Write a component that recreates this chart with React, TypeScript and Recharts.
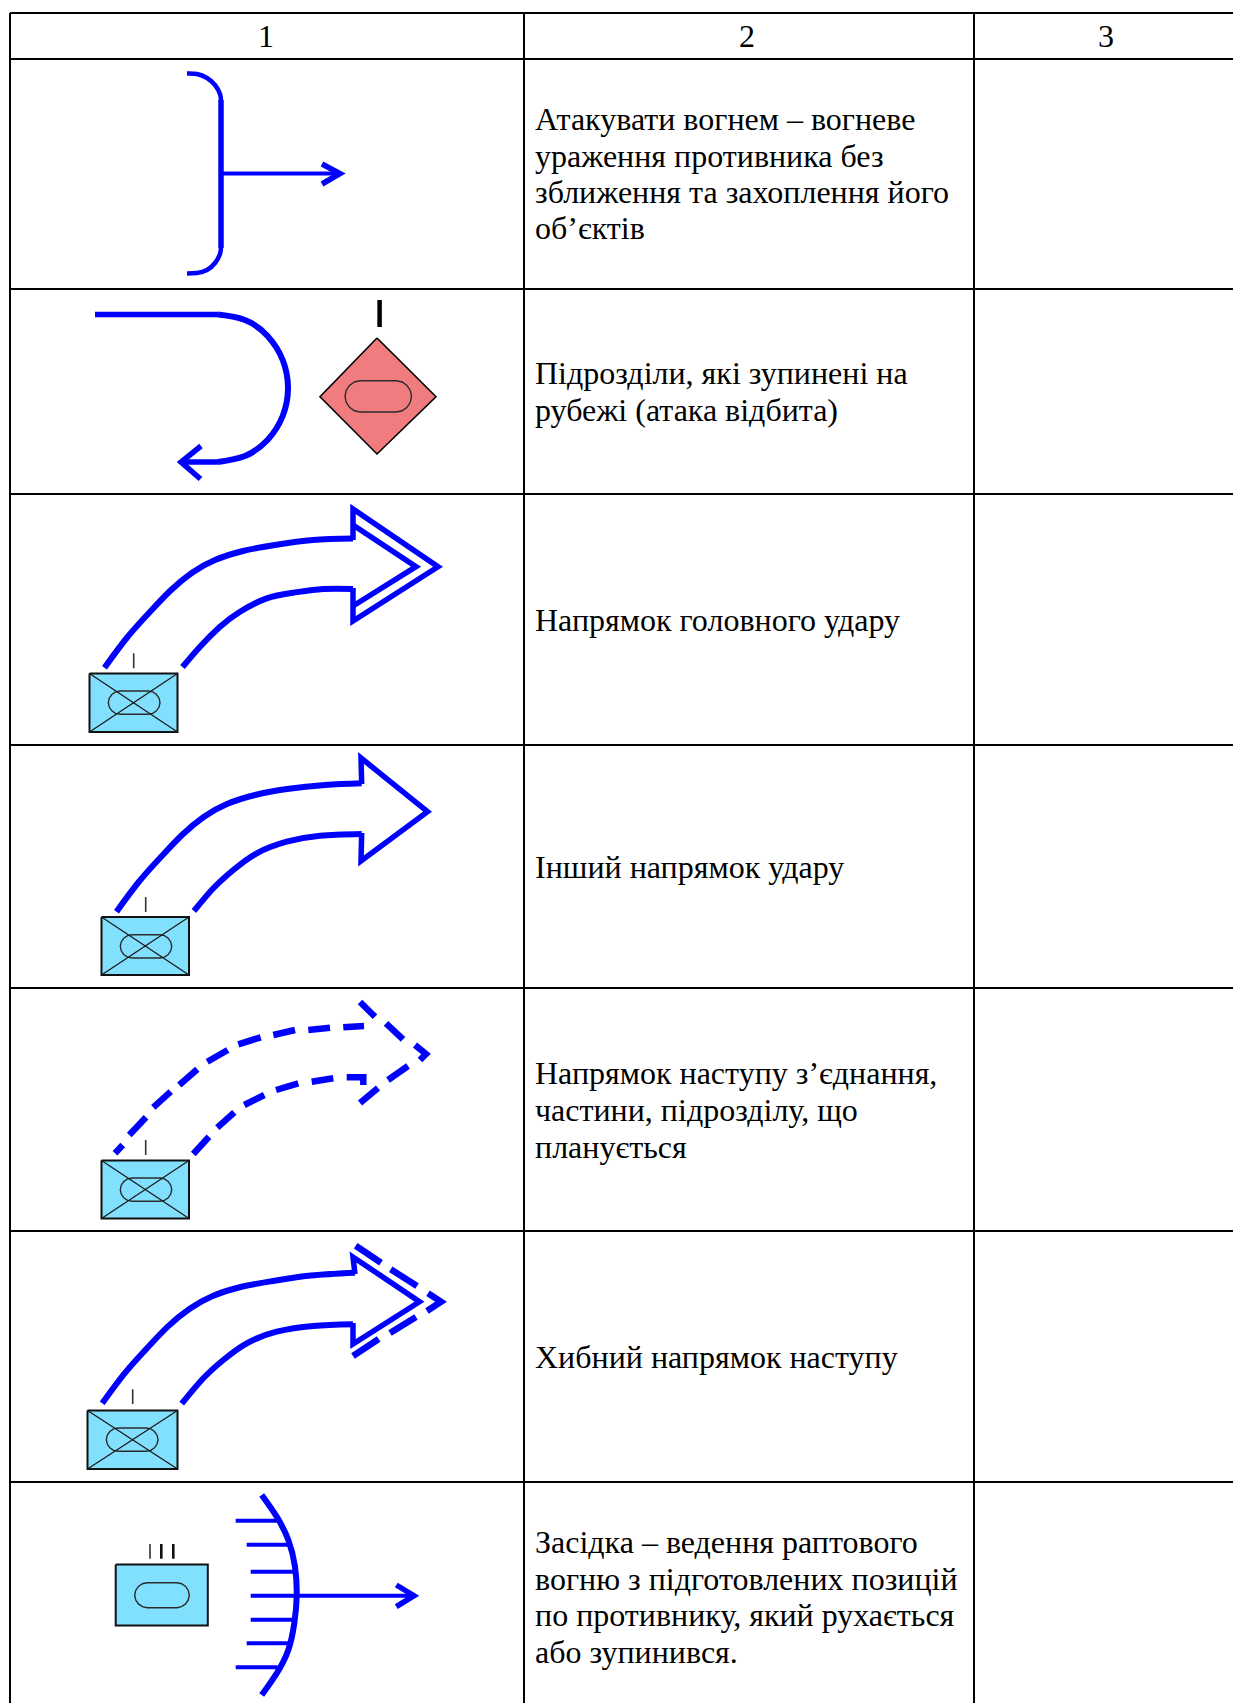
import React from "react";
import { ComposedChart, Line, Area, Scatter, XAxis, YAxis } from "recharts";

type P = { x: number; y: number };
const pts = (a: number[][]): P[] => a.map(([x, y]) => ({ x, y }));
const box = (x1: number, y1: number, x2: number, y2: number) => [
  { x: x1, y: y1, range: [y1, y2] },
  { x: x2, y: y1, range: [y1, y2] },
];

// Table rules
const columnRules = [10, 524, 974];
const rowRules = [13, 59, 289, 494, 745, 988, 1231, 1482];
const headerLabels = [
  { x: 266, y: 47, text: "1" },
  { x: 747, y: 47, text: "2" },
  { x: 1106, y: 47, text: "3" },
];
const descriptionLines = [
  { x: 535, y: 130, text: "Атакувати вогнем – вогневе" },
  { x: 535, y: 167, text: "ураження противника без" },
  { x: 535, y: 203, text: "зближення та захоплення його" },
  { x: 535, y: 239, text: "об’єктів" },
  { x: 535, y: 384, text: "Підрозділи, які зупинені на" },
  { x: 535, y: 421, text: "рубежі (атака відбита)" },
  { x: 535, y: 631, text: "Напрямок головного удару" },
  { x: 535, y: 878, text: "Інший напрямок удару" },
  { x: 535, y: 1084, text: "Напрямок наступу з’єднання," },
  { x: 535, y: 1121, text: "частини, підрозділу, що" },
  { x: 535, y: 1158, text: "планується" },
  { x: 535, y: 1368, text: "Хибний напрямок наступу" },
  { x: 535, y: 1553, text: "Засідка – ведення раптового" },
  { x: 535, y: 1590, text: "вогню з підготовлених позицій" },
  { x: 535, y: 1626, text: "по противнику, який рухається" },
  { x: 535, y: 1663, text: "або зупинився." },
];

// Curved outlines (smooth)
const smoothHeavy = [
  [[104.5,667.7],[126.7,638],[148,614],[170,591],[192,572.7],[215,560],[243,551],[275,545],[313,540],[353,538.5]],
  [[182.5,667],[200,646.7],[220,626.7],[240,611.7],[266.7,598.3],[293.3,592.7],[323.3,589],[353,589]],
  [[116.5,911.7],[138.7,882],[160,858],[182,835],[204,816.7],[227,804],[255,795],[287,789],[325,785],[361.7,783.3]],
  [[194,911],[213.3,888.3],[233.3,870],[256.7,853.3],[286.7,841.7],[320,835.7],[361.7,834]],
  [[102.2,1403.3],[124.4,1373.6],[145.7,1349.6],[167.7,1326.6],[189.7,1308.7],[212.7,1296],[240.7,1287],[272.7,1281],[310.7,1275.5],[355,1272.7]],
  [[181.7,1403.7],[203.3,1378.3],[223.3,1360],[246.7,1343.3],[276.7,1331.7],[313.3,1326],[353,1324.3]],
  [[218,314.5],[245,320],[267.5,336],[282.7,360],[288,388],[282.7,416],[267.5,440],[245,456],[218,462]],
  [[261.7,1495],[276.7,1516.7],[288.3,1540],[295,1566.7],[296.7,1595.7],[294.3,1623.3],[288.3,1650],[276.7,1673.3],[261.7,1695]],
].map(pts);
const bracketCorners = [
  [[187,73.5],[197,74],[207,78],[215,85],[220,94],[221,101]],
  [[221,247],[220,254],[215,263],[207,270],[197,273],[187,273.5]],
].map(pts);

// Straight blue strokes
const straightHeavy = [
  [[353,540],[353,509],[438,566.7],[353,621],[353,588]],
  [[353,525],[416,566.7],[353,606]],
  [[361.7,784],[361,758],[427.5,811.7],[361,861],[361.7,833]],
  [[355,1274],[353,1257],[419.5,1301.7],[353,1344],[353,1323]],
  [[95,314.5],[218,314.5]],
  [[218,462],[181,462]],
  [[201,446],[181,462],[200.5,479]],
  [[221,100],[221,248]],
  [[322,164],[340,173.5],[322,184]],
  [[396.3,1585],[414,1595.7],[396.3,1606.7]],
].map(pts);
// Planned direction: dash segments, then false-direction chevron dashes
const dashSegments = [
  [[115,1153.3],[122.7,1145]],
  [[129.3,1135],[146,1117.3]],
  [[153.3,1107.3],[170.7,1091.7]],
  [[179.3,1085],[197.3,1069.3]],
  [[207.3,1061.7],[227.7,1050]],
  [[238.3,1044.3],[260.7,1037.3]],
  [[273.3,1035],[295,1030]],
  [[308.3,1030],[330,1027.7]],
  [[343.3,1027.3],[364,1026]],
  [[193.3,1154],[209,1136.7]],
  [[217.3,1127.7],[234.3,1112.3]],
  [[244.3,1105],[264.3,1095]],
  [[276,1090],[298.3,1083.3]],
  [[311.7,1081.7],[333.3,1078.3]],
  [[346.7,1077.3],[363.3,1077.3],[363.3,1085]],
  [[360,1002],[375,1016.7]],
  [[386,1023.3],[403,1039.3]],
  [[415,1045],[426,1054],[420,1060]],
  [[408,1066],[388,1080]],
  [[378,1088],[360,1103]],
  [[355.7,1245.7],[381,1262.7]],
  [[390.7,1269.3],[417,1286]],
  [[428,1293.3],[441,1301.7],[427,1311]],
  [[416,1317],[390,1333]],
  [[378.7,1339],[353,1356]],
].map(pts);
const thinBlue = [
  [[221,173.5],[338,173.5]],
  [[296.7,1595.7],[412,1595.7]],
  [[235.7,1520.7],[277.7,1520.7]],
  [[246.7,1544.7],[288,1544.7]],
  [[250.7,1571.7],[295,1571.7]],
  [[250.7,1595.7],[296.7,1595.7]],
  [[250.7,1619.7],[295,1619.7]],
  [[246.7,1643.3],[288,1643.3]],
  [[235.7,1667.3],[277.7,1667.3]],
].map(pts);

// Unit symbols
const unitBoxes = [
  [89.5, 673.5, 177.5, 732],
  [101.5, 917, 189, 975],
  [101.5, 1160.5, 189, 1218.5],
  [87.5, 1410.5, 177.5, 1469],
  [115.7, 1564.5, 207.8, 1625.5],
];
const crossedBoxes = unitBoxes.slice(0, 4);
const stadiumBoxes = [
  [108.3, 691, 160, 714.3],
  [120.3, 934.7, 171.7, 958],
  [120.3, 1178, 171.7, 1201.3],
  [106.3, 1428, 158, 1451.3],
  [134.7, 1582.7, 189.3, 1607.7],
  [345, 380.7, 411.5, 412],
];
const stadiumTemplate = [
  [.5,0],[1.7,0],[1.89,.04],[2.05,.15],[2.16,.31],[2.2,.5],[2.16,.69],[2.05,.85],[1.89,.96],[1.7,1],
  [.5,1],[.31,.96],[.15,.85],[.04,.69],[0,.5],[.04,.31],[.15,.15],[.31,.04],[.5,0],
];
const diamondFill = [
  { x: 320, y: 396.7, range: [396.7, 396.7] },
  { x: 377, y: 338, range: [338, 454] },
  { x: 436, y: 396.7, range: [396.7, 396.7] },
];
const diamondEdge = pts([[377,338],[436,396.7],[377,454],[320,396.7],[377,338]]);
const echelonThin = [
  [[133.7,653.3],[133.7,668.3]],
  [[145.7,897],[145.7,912]],
  [[145.7,1140],[145.7,1155]],
  [[132.7,1389.3],[132.7,1404]],
  [[150,1544],[150,1558.7]],
].map(pts);
const echelonThick = [
  [[161.3,1544],[161.3,1558.7]],
  [[173.3,1544],[173.3,1558.7]],
].map(pts);
const echelonBold = pts([[379.6,300],[379.6,327]]);

const stadium = ([x1, y1, x2, y2]: number[]) =>
  stadiumTemplate.map(([u, v]) => ({ x: x1 + (u / 2.2) * (x2 - x1), y: y1 + v * (y2 - y1) }));

const BLUE = "#0000FF";
const base = { isAnimationActive: false, dot: false, activeDot: false, legendType: "none" as const, dataKey: "y" };
const serif = "'Liberation Serif', 'Times New Roman', serif";

function line(data: P[], key: string, stroke: string, strokeWidth: number, extra: object = {}) {
  return <Line key={key} {...base} data={data} type="linear" stroke={stroke} strokeWidth={strokeWidth} {...extra} />;
}

const TextMark = (anchor: "start" | "middle") => (p: any) => (
  <text x={p.cx} y={p.cy} textAnchor={anchor} fontFamily={serif} fontSize={32} fill="#000">
    {p.payload.text}
  </text>
);

export default function App() {
  return (
    <div style={{ position: "absolute", left: 0, top: 0, width: 1233, height: 1703, background: "#fff" }}>
      <ComposedChart width={1233} height={1703} margin={{ top: 0, right: 0, bottom: 0, left: 0 }}>
        <XAxis dataKey="x" type="number" domain={[0, 1233]} hide allowDataOverflow />
        <YAxis dataKey="y" type="number" domain={[0, 1703]} reversed hide allowDataOverflow />

        {unitBoxes.map((b, i) => (
          <Area key={"box" + i} data={box(b[0], b[1], b[2], b[3])} dataKey="range" type="linear" fill="#82E0FF" fillOpacity={1} stroke="none" isAnimationActive={false} dot={false} activeDot={false} legendType="none" />
        ))}
        <Area data={diamondFill} dataKey="range" type="linear" fill="#F07C80" fillOpacity={1} stroke="none" isAnimationActive={false} dot={false} activeDot={false} legendType="none" />

        {columnRules.map((x, i) => line(pts([[x, 13], [x, 1703]]), "col" + i, "#000", 2))}
        {rowRules.map((y, i) => line(pts([[10, y], [1233, y]]), "row" + i, "#000", 2))}

        {unitBoxes.map((b, i) =>
          line(pts([[b[0], b[1]], [b[2], b[1]], [b[2], b[3]], [b[0], b[3]], [b[0], b[1]]]), "edge" + i, "#111", 2)
        )}
        {stadiumBoxes.map((b, i) => line(stadium(b), "st" + i, "#2a2a2a", 1.4))}
        {crossedBoxes.map((b, i) => line(pts([[b[0], b[1]], [b[2], b[3]]]), "da" + i, "#1a1a1a", 1.3))}
        {crossedBoxes.map((b, i) => line(pts([[b[0], b[3]], [b[2], b[1]]]), "db" + i, "#1a1a1a", 1.3))}
        {line(diamondEdge, "diamond", "#000", 1.6)}
        {echelonThin.map((d, i) => line(d, "et" + i, "#333", 1.6))}
        {echelonThick.map((d, i) => line(d, "eh" + i, "#111", 2.6))}
        {line(echelonBold, "eb", "#000", 4.5)}

        {smoothHeavy.map((d, i) => line(d, "sh" + i, BLUE, 6, { type: "natural" }))}
        {bracketCorners.map((d, i) => line(d, "bc" + i, BLUE, 4.5, { type: "natural" }))}
        {straightHeavy.map((d, i) => line(d, "h" + i, BLUE, 5.5))}
        {dashSegments.map((d, i) => line(d, "s" + i, BLUE, 6.5))}
        {thinBlue.map((d, i) => line(d, "t" + i, BLUE, 4))}

        <Scatter data={headerLabels} dataKey="y" isAnimationActive={false} legendType="none" shape={TextMark("middle")} />
        <Scatter data={descriptionLines} dataKey="y" isAnimationActive={false} legendType="none" shape={TextMark("start")} />
      </ComposedChart>
    </div>
  );
}
